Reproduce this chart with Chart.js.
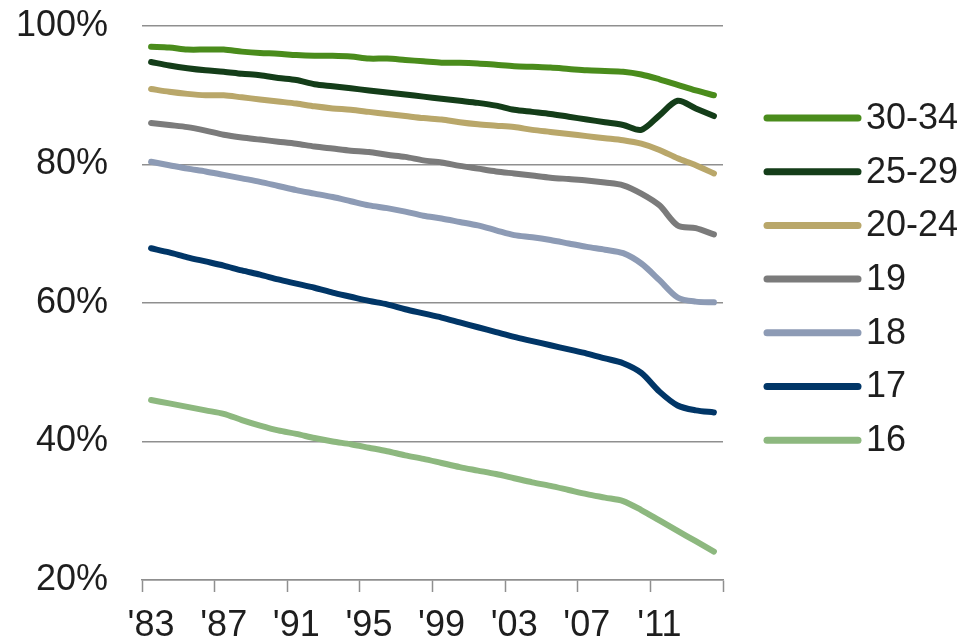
<!DOCTYPE html>
<html>
<head>
<meta charset="utf-8">
<title>Participation by age group</title>
<script src="https://cdn.jsdelivr.net/npm/chart.js@4/dist/chart.umd.min.js"></script>
<style>
  html, body { margin: 0; padding: 0; background: #fff; }
  canvas { display: block; }
</style>
</head>
<body>
<canvas id="chart" width="967" height="644"></canvas>
<script>
// Years on the category axis
const years = [1983, 1984, 1985, 1986, 1987, 1988, 1989, 1990, 1991, 1992,
               1993, 1994, 1995, 1996, 1997, 1998, 1999, 2000, 2001, 2002,
               2003, 2004, 2005, 2006, 2007, 2008, 2009, 2010, 2011, 2012,
               2013, 2014];

// Series names (legend order)
const seriesNames = ['30-34', '25-29', '20-24', '19', '18', '17', '16'];

// Share (%) per year for each age group
const age3034 = [97.0, 96.9, 96.6, 96.6, 96.6, 96.3, 96.1, 96.0, 95.8, 95.7,
                 95.7, 95.6, 95.3, 95.3, 95.1, 94.9, 94.7, 94.7, 94.6, 94.4,
                 94.2, 94.1, 94.0, 93.8, 93.6, 93.5, 93.4, 93.0, 92.3, 91.5,
                 90.7, 90.0];
const age2529 = [94.8, 94.3, 93.9, 93.6, 93.4, 93.1, 92.9, 92.5, 92.2, 91.6,
                 91.3, 91.0, 90.7, 90.4, 90.1, 89.8, 89.5, 89.2, 88.9, 88.5,
                 87.9, 87.6, 87.3, 86.9, 86.5, 86.1, 85.7, 85.0, 87.1, 89.2,
                 88.1, 87.0];
const age2024 = [90.9, 90.5, 90.2, 90.0, 90.0, 89.7, 89.4, 89.1, 88.8, 88.4,
                 88.1, 87.9, 87.6, 87.3, 87.0, 86.7, 86.5, 86.1, 85.8, 85.6,
                 85.4, 85.0, 84.7, 84.4, 84.1, 83.8, 83.5, 83.0, 82.1, 80.9,
                 79.9, 78.7];
const age19 = [86.0, 85.7, 85.4, 84.9, 84.3, 83.9, 83.6, 83.3, 83.0, 82.6,
               82.3, 82.0, 81.8, 81.4, 81.1, 80.6, 80.3, 79.8, 79.4, 79.0,
               78.7, 78.4, 78.1, 77.9, 77.7, 77.4, 77.0, 75.8, 74.1, 71.2,
               70.8, 69.9];
const age18 = [80.4, 79.9, 79.4, 79.0, 78.5, 78.0, 77.5, 76.9, 76.3, 75.8,
               75.3, 74.7, 74.1, 73.7, 73.2, 72.6, 72.2, 71.7, 71.2, 70.5,
               69.8, 69.5, 69.1, 68.6, 68.1, 67.7, 67.2, 65.7, 63.3, 60.8,
               60.2, 60.1];
const age17 = [67.9, 67.3, 66.6, 66.0, 65.4, 64.7, 64.1, 63.4, 62.8, 62.2,
               61.5, 60.9, 60.3, 59.8, 59.1, 58.5, 57.9, 57.2, 56.5, 55.8,
               55.1, 54.5, 53.9, 53.3, 52.7, 52.0, 51.3, 49.9, 47.2, 45.2,
               44.5, 44.2];
const age16 = [46.0, 45.5, 45.0, 44.5, 44.0, 43.1, 42.3, 41.6, 41.1, 40.5,
               40.0, 39.6, 39.1, 38.6, 38.0, 37.5, 36.9, 36.3, 35.8, 35.3,
               34.7, 34.1, 33.6, 33.0, 32.4, 31.9, 31.4, 30.1, 28.6, 27.1,
               25.6, 24.1];

// Y axis range and step (percent)
const yMin = 20;
const yMax = 100;
const yStep = 20;
// Label every 4th year on the x axis
const xLabelEvery = 4;

const seriesValues = [age3034, age2529, age2024, age19, age18, age17, age16];
const seriesColors = ['#4a8c1c', '#143d19', '#b9a76a', '#7b7b7b', '#8d9bb5', '#013667', '#8db87f'];

const FONT = '"Liberation Sans", Arial, sans-serif';
const FONT_SIZE = 36;
const TEXT = '#1e1e1e';
const GRID = '#8f8f8f';

// Legend drawn to the right of the plot: line sample + label
const sideLegend = {
  id: 'sideLegend',
  afterDraw(chart) {
    const ctx = chart.ctx;
    ctx.save();
    ctx.font = FONT_SIZE + 'px ' + FONT;
    ctx.fillStyle = TEXT;
    ctx.textBaseline = 'middle';
    ctx.textAlign = 'left';
    chart.data.datasets.forEach((ds, i) => {
      const y = 118 + i * 53.7;
      ctx.beginPath();
      ctx.lineCap = 'round';
      ctx.lineWidth = 7;
      ctx.strokeStyle = ds.borderColor;
      ctx.moveTo(767, y);
      ctx.lineTo(858, y);
      ctx.stroke();
      ctx.fillText(ds.label, 866, y + 1);
    });
    ctx.restore();
  }
};

new Chart(document.getElementById('chart'), {
  type: 'line',
  data: {
    labels: years,
    datasets: seriesNames.map((name, i) => ({
      label: name,
      data: seriesValues[i],
      borderColor: seriesColors[i],
      backgroundColor: seriesColors[i],
      borderWidth: 6,
      borderCapStyle: 'round',
      borderJoinStyle: 'round',
      pointRadius: 0,
      tension: 0.3,
      fill: false
    }))
  },
  options: {
    responsive: false,
    animation: false,
    devicePixelRatio: 1,
    layout: { padding: { top: 0, right: 244, left: 0, bottom: 0 } },
    plugins: {
      legend: { display: false },
      tooltip: { enabled: false }
    },
    scales: {
      x: {
        type: 'category',
        offset: true,
        grid: {
          offset: true,
          display: true,
          drawOnChartArea: false,
          drawTicks: true,
          tickLength: 12,
          tickWidth: 1.5,
          tickColor: (c) => (c.type !== 'tick' || c.index % xLabelEvery === 0) ? GRID : 'rgba(0,0,0,0)'
        },
        border: { display: true, color: GRID, width: 1.5 },
        ticks: {
          autoSkip: false,
          maxRotation: 0,
          minRotation: 0,
          padding: 12,
          color: TEXT,
          font: { family: FONT, size: FONT_SIZE },
          callback: function (value, index) {
            if (index % xLabelEvery !== 0) return '';
            return "'" + String(years[index]).slice(2);
          }
        },
        afterFit: (scale) => { scale.height = 64; }
      },
      y: {
        min: yMin,
        max: yMax,
        grid: {
          color: GRID,
          lineWidth: 1.5,
          drawTicks: false
        },
        border: { display: false },
        ticks: {
          stepSize: yStep,
          padding: 34,
          color: TEXT,
          font: { family: FONT, size: FONT_SIZE },
          callback: (v) => v + '%'
        },
        afterFit: (scale) => {
          scale.width = 142;
          // room above the top gridline for the "100%" label
          scale.paddingTop = 26;
          scale.paddingBottom = 0;
        }
      }
    }
  },
  plugins: [sideLegend]
});
</script>
</body>
</html>
